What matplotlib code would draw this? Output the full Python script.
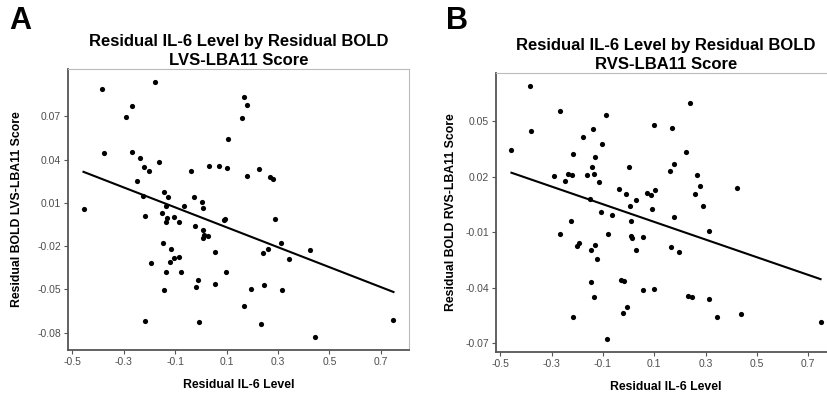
import numpy as np
import matplotlib
matplotlib.use('Agg')
import matplotlib.pyplot as plt

plt.rcParams['font.family'] = ['Liberation Sans', 'DejaVu Sans']

# panel A: residual IL-6 vs residual BOLD LVS-LBA11
il6_a = [-0.384, -0.179, -0.269, -0.289, -0.378, -0.267, -0.238, -0.163, -0.221, -0.203,
         -0.248, -0.145, -0.226, -0.128, -0.136, -0.456, -0.064, -0.038, -0.028, 0.004,
         0.007, 0.030, 0.072, 0.102, 0.106, 0.169, 0.178, 0.162, 0.226, 0.179,
         0.267, 0.279, -0.217, -0.149, -0.132, -0.137, -0.103, -0.084, -0.022, 0.010,
         0.013, 0.010, 0.029, 0.089, 0.094, -0.146, -0.114, 0.056, -0.194, -0.121,
         -0.106, -0.083, -0.135, -0.078, 0.098, -0.010, -0.017, 0.056, -0.144, -0.217,
         -0.006, 0.290, 0.313, 0.260, 0.241, 0.425, 0.342, 0.196, 0.246, 0.315,
         0.166, 0.234, 0.443, 0.749]
lvs = [0.0889, 0.0940, 0.0769, 0.0698, 0.0446, 0.0455, 0.0411, 0.0386, 0.0347, 0.0319,
       0.0254, 0.0175, 0.0150, 0.0141, 0.0078, 0.0056, 0.0081, 0.0324, 0.0139, 0.0104,
       0.0065, 0.0358, 0.0358, 0.0340, 0.0543, 0.0834, 0.0781, 0.0686, 0.0333, 0.0289,
       0.0279, 0.0263, 0.0009, 0.0033, -0.0005, -0.0035, 0.0002, -0.0035, -0.0060, -0.0088,
       -0.0123, -0.0141, -0.0132, -0.0021, -0.0014, -0.0178, -0.0217, -0.0238, -0.0314, -0.0310,
       -0.0284, -0.0277, -0.0379, -0.0379, -0.0379, -0.0434, -0.0487, -0.0466, -0.0504, -0.0716,
       -0.0723, -0.0009, -0.0175, -0.0217, -0.0249, -0.0224, -0.0289, -0.0499, -0.0469, -0.0504,
       -0.0612, -0.0741, -0.0832, -0.0712]

# panel B: residual IL-6 vs residual BOLD RVS-LBA11
il6_b = [-0.384, -0.268, -0.086, -0.379, -0.137, -0.178, -0.456, -0.103, -0.217, -0.132,
         -0.144, 0.003, -0.289, -0.237, -0.221, -0.163, -0.134, -0.248, -0.115, 0.101,
         -0.038, -0.011, 0.029, 0.071, 0.088, 0.105, 0.005, -0.150, 0.093, 0.241,
         0.168, 0.225, 0.176, 0.161, 0.265, 0.280, 0.423, 0.259, 0.289, -0.109,
         -0.063, 0.009, -0.226, -0.267, -0.078, 0.009, 0.013, 0.055, -0.194, -0.202,
         -0.129, -0.146, 0.028, -0.121, -0.146, -0.028, -0.018, 0.056, 0.099, -0.134,
         -0.007, -0.022, -0.217, -0.085, 0.179, 0.312, 0.166, 0.197, 0.233, 0.246,
         0.315, 0.343, 0.440, 0.748]
rvs = [0.0692, 0.0556, 0.0534, 0.0448, 0.0457, 0.0416, 0.0344, 0.0375, 0.0325, 0.0307,
       0.0255, 0.0251, 0.0203, 0.0214, 0.0207, 0.0212, 0.0217, 0.0178, 0.0171, 0.0479,
       0.0135, 0.0108, 0.0076, 0.0111, 0.0099, 0.0129, 0.0043, 0.0078, 0.0026, 0.0599,
       0.0465, 0.0333, 0.0267, 0.0233, 0.0212, 0.0151, 0.0138, 0.0106, 0.0043, 0.0011,
       -0.0007, -0.0037, -0.0037, -0.0107, -0.0110, -0.0121, -0.0129, -0.0125, -0.0156, -0.0173,
       -0.0170, -0.0193, -0.0195, -0.0243, -0.0367, -0.0356, -0.0365, -0.0413, -0.0406, -0.0451,
       -0.0503, -0.0535, -0.0560, -0.0678, -0.0017, -0.0091, -0.0180, -0.0209, -0.0442, -0.0449,
       -0.0460, -0.0556, -0.0542, -0.0587]

x_ticks = [-0.5, -0.3, -0.1, 0.1, 0.3, 0.5, 0.7]
x_labels = ['-0.5', '-0.3', '-0.1', '0.1', '0.3', '0.5', '0.7']
lvs_ticks = [-0.08, -0.05, -0.02, 0.01, 0.04, 0.07]
lvs_labels = ['-0.08', '-0.05', '-0.02', '0.01', '0.04', '0.07']
rvs_ticks = [-0.07, -0.04, -0.01, 0.02, 0.05]
rvs_labels = ['-0.07', '-0.04', '-0.01', '0.02', '0.05']


def panel(ax, x, y, title, ylabel, yticks, ylabels, ypad):
    x = np.array(x)
    y = np.array(y)
    ax.scatter(x, y, s=14, color='black', linewidths=0, zorder=3)
    # lm fit like geom_smooth(method='lm', se=FALSE)
    b, a = np.polyfit(x, y, 1)
    xs = np.array([x.min(), x.max()])
    ax.plot(xs, a + b * xs, color='black', lw=1.5, zorder=2)

    xr = x.max() - x.min()
    yr = y.max() - y.min()
    ax.set_xlim(x.min() - 0.05 * xr, x.max() + 0.05 * xr)
    ax.set_ylim(y.min() - 0.05 * yr, y.max() + 0.05 * yr)
    ax.set_xticks(x_ticks)
    ax.set_xticklabels(x_labels)
    ax.set_yticks(yticks)
    ax.set_yticklabels(ylabels)
    ax.tick_params(length=3, width=0.8, color='#555555', labelcolor='#4d4d4d',
                   labelsize=7.5, pad=2)

    for s in ['left', 'bottom']:
        ax.spines[s].set_color('#555555')
        ax.spines[s].set_linewidth(1.3)
    for s in ['top', 'right']:
        ax.spines[s].set_color('#bbbbbb')
        ax.spines[s].set_linewidth(0.8)

    ax.set_title(title, fontsize=12, fontweight='bold', pad=3, linespacing=1.3)
    ax.set_xlabel('Residual IL-6 Level', fontsize=8.8, fontweight='bold', labelpad=9)
    ax.set_ylabel(ylabel, fontsize=8.8, fontweight='bold', labelpad=ypad)


fig = plt.figure(figsize=(8.28, 3.94), dpi=100)
ax1 = fig.add_axes([68 / 828, 44 / 394, 341 / 828, 281 / 394])
ax2 = fig.add_axes([496 / 828, 42 / 394, 340 / 828, 279 / 394])

panel(ax1, il6_a, lvs, 'Residual IL-6 Level by Residual BOLD\nLVS-LBA11 Score',
      'Residual BOLD LVS-LBA11 Score', lvs_ticks, lvs_labels, 10)
panel(ax2, il6_b, rvs, 'Residual IL-6 Level by Residual BOLD\nRVS-LBA11 Score',
      'Residual BOLD RVS-LBA11 Score', rvs_ticks, rvs_labels, 6)

fig.text(20 / 828, 1 - 21 / 394, 'A', fontsize=22, fontweight='bold', ha='center', va='center')
fig.text(457 / 828, 1 - 21 / 394, 'B', fontsize=22, fontweight='bold', ha='center', va='center')

fig.savefig('out.png', dpi=100)
